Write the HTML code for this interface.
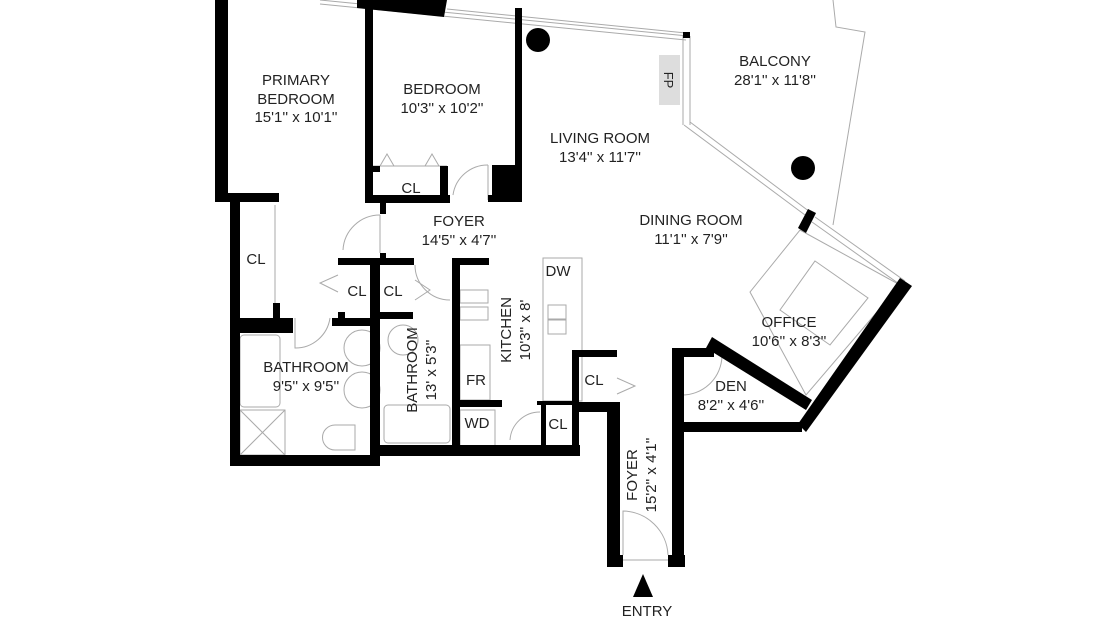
<!DOCTYPE html>
<html><head><meta charset="utf-8">
<style>
html,body{margin:0;padding:0;background:#fff;}
svg{display:block;}
text{font-family:"Liberation Sans",sans-serif;font-size:15px;fill:#222;text-anchor:middle;}
</style></head>
<body>
<svg width="1110" height="623" viewBox="0 0 1110 623" xmlns="http://www.w3.org/2000/svg">
<g fill="none" stroke="#aaa" stroke-width="1">
  <line x1="320" y1="0" x2="688" y2="36"/>
  <line x1="320" y1="4" x2="686" y2="40"/>
  <line x1="447" y1="9" x2="686" y2="33"/>
  <line x1="683" y1="36" x2="683" y2="125"/>
  <line x1="690" y1="36" x2="690" y2="125"/>
  <line x1="684" y1="125" x2="805" y2="215"/>
  <line x1="690" y1="122" x2="810" y2="212"/>
  <line x1="815" y1="217" x2="905" y2="281"/>
  <line x1="812" y1="222" x2="902" y2="286"/>
  <polyline points="833,0 836,27 865,32 833,225"/>
  <polygon points="800,230 900,285 806,395 750,292"/>
  <polygon points="815,261 868,298 830,345 780,310"/>
  <rect x="543" y="258" width="39" height="143"/>
  <rect x="548" y="305" width="18" height="14"/><rect x="548" y="320" width="18" height="14"/>
  <rect x="460" y="290" width="28" height="13"/><rect x="460" y="307" width="28" height="13"/>
  <rect x="460" y="345" width="30" height="55"/>
  <rect x="460" y="410" width="35" height="37"/>
  <rect x="384" y="405" width="66" height="38" rx="4"/>
  <rect x="240" y="335" width="40" height="72" rx="4"/>
  <rect x="240" y="410" width="45" height="45"/>
  <line x1="240" y1="410" x2="285" y2="455"/><line x1="285" y1="410" x2="240" y2="455"/>
  <circle cx="362" cy="348" r="18"/><circle cx="362" cy="390" r="18"/>
  <circle cx="403" cy="340" r="15"/>
  <path d="M335 425 h20 v25 h-20 a12 12 0 0 1 0 -25z"/>
  <path d="M343 250 A37 37 0 0 1 380 215"/><line x1="380" y1="215" x2="380" y2="253"/>
  <path d="M453 195 A35 35 0 0 1 488 165"/><line x1="488" y1="165" x2="488" y2="200"/>
  <path d="M295 318 v30 A35 35 0 0 0 330 318"/>
  <path d="M415 265 A35 35 0 0 0 450 300"/>
  <path d="M510 440 A30 30 0 0 1 540 412"/>
  <path d="M681 395 A40 40 0 0 0 722 356"/>
  <path d="M623 555 v-44 A46 46 0 0 1 668 555"/>
  <line x1="623" y1="560" x2="668" y2="560"/>
  <polyline points="338,275 320,283 338,292"/>
  <polyline points="415,280 430,290 415,300"/>
  <polyline points="617,378 635,386 617,394"/>
  <line x1="275" y1="205" x2="275" y2="305"/>
  <line x1="372" y1="166" x2="447" y2="166"/>
  <polyline points="380,166 387,154 394,166"/><polyline points="425,166 432,154 439,166"/>
</g>
<rect x="659" y="55" width="21" height="50" fill="#ddd"/>
<g fill="#000">
  <rect x="215" y="0" width="13" height="200"/>
  <rect x="215" y="193" width="64" height="9"/>
  <rect x="230" y="200" width="10" height="265"/>
  <polygon points="357,0 447,0 444,17 357,8"/>
  <rect x="365" y="6" width="8" height="196"/>
  <rect x="365" y="195" width="85" height="8"/>
  <rect x="440" y="166" width="8" height="36"/>
  <rect x="365" y="166" width="15" height="6"/>
  <rect x="515" y="8" width="7" height="194"/>
  <rect x="492" y="165" width="30" height="37"/>
  <rect x="488" y="195" width="34" height="7"/>
  <rect x="380" y="202" width="6" height="12"/>
  <rect x="380" y="253" width="6" height="8"/>
  <rect x="338" y="258" width="76" height="7"/>
  <rect x="452" y="258" width="37" height="7"/>
  <rect x="370" y="258" width="10" height="199"/>
  <rect x="338" y="312" width="7" height="8"/>
  <rect x="380" y="312" width="33" height="7"/>
  <rect x="273" y="303" width="7" height="15"/>
  <rect x="230" y="318" width="63" height="15"/>
  <rect x="332" y="318" width="40" height="8"/>
  <rect x="230" y="455" width="150" height="11"/>
  <rect x="370" y="445" width="210" height="11"/>
  <rect x="452" y="258" width="8" height="192"/>
  <rect x="452" y="400" width="50" height="7"/>
  <rect x="537" y="401" width="38" height="4"/>
  <rect x="541" y="405" width="5" height="42"/>
  <rect x="572" y="350" width="45" height="7"/>
  <rect x="572" y="350" width="7" height="105"/>
  <rect x="575" y="402" width="45" height="10"/>
  <rect x="607" y="405" width="13" height="162"/>
  <rect x="607" y="555" width="16" height="12"/>
  <rect x="672" y="348" width="12" height="219"/>
  <rect x="668" y="555" width="17" height="12"/>
  <rect x="672" y="348" width="42" height="9"/>
  <polygon points="712,337 812,400 806,410 706,348"/>
  <rect x="682" y="422" width="120" height="10"/>
  <polygon points="900,278 912,286 806,432 798,424"/>
  <polygon points="808,209 816,213 806,233 798,228"/>
  <rect x="683" y="32" width="7" height="6"/>
  <circle cx="538" cy="40" r="12"/>
  <circle cx="803" cy="168" r="12"/>
  <polygon points="633,597 643,574 653,597"/>
</g>
<text x="296" y="85">PRIMARY</text>
<text x="296" y="104">BEDROOM</text>
<text x="296" y="122">15'1'' x 10'1''</text>
<text x="442" y="94">BEDROOM</text>
<text x="442" y="113">10'3'' x 10'2''</text>
<text x="411" y="193">CL</text>
<text x="600" y="143">LIVING ROOM</text>
<text x="600" y="162">13'4'' x 11'7''</text>
<text x="775" y="66">BALCONY</text>
<text x="775" y="85">28'1'' x 11'8''</text>
<text x="691" y="225">DINING ROOM</text>
<text x="691" y="244">11'1'' x 7'9''</text>
<text x="459" y="226">FOYER</text>
<text x="459" y="245">14'5'' x 4'7''</text>
<text x="256" y="264">CL</text>
<text x="357" y="296">CL</text>
<text x="393" y="296">CL</text>
<text x="558" y="276">DW</text>
<text x="476" y="385">FR</text>
<text x="477" y="428">WD</text>
<text x="558" y="429">CL</text>
<text x="594" y="385">CL</text>
<text x="306" y="372">BATHROOM</text>
<text x="306" y="391">9'5'' x 9'5''</text>
<text transform="translate(417,370) rotate(-90)">BATHROOM</text>
<text transform="translate(436,370) rotate(-90)">13' x 5'3''</text>
<text transform="translate(511,330) rotate(-90)">KITCHEN</text>
<text transform="translate(530,330) rotate(-90)">10'3'' x 8'</text>
<text transform="translate(664,80) rotate(90)" style="font-size:13px">FP</text>
<text x="789" y="327">OFFICE</text>
<text x="789" y="346">10'6'' x 8'3''</text>
<text x="731" y="391">DEN</text>
<text x="731" y="410">8'2'' x 4'6''</text>
<text transform="translate(637,475) rotate(-90)">FOYER</text>
<text transform="translate(656,475) rotate(-90)">15'2'' x 4'1''</text>
<text x="647" y="616">ENTRY</text>
</svg>
</body></html>
